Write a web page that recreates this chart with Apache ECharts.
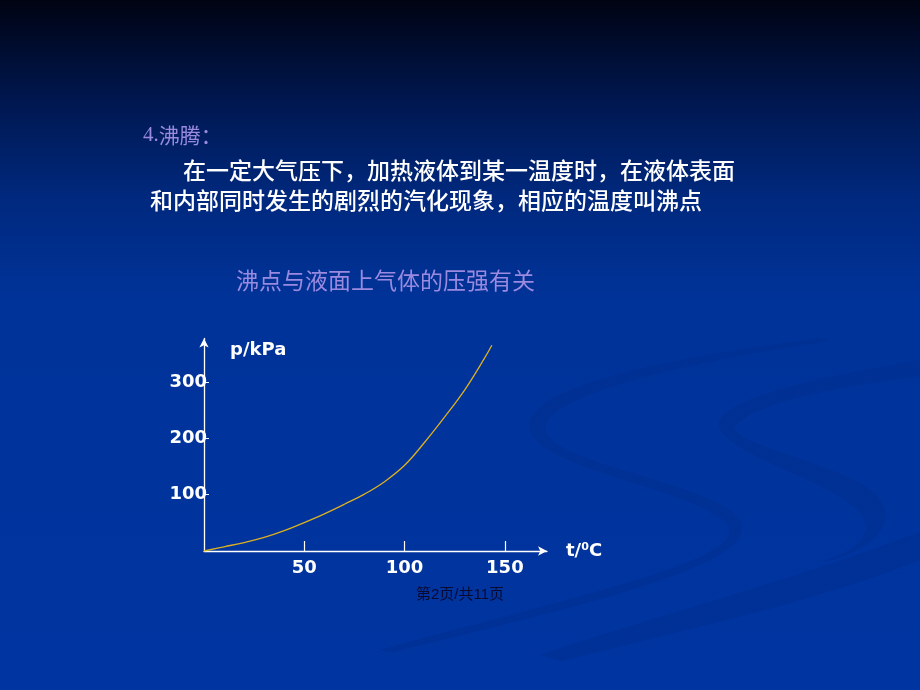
<!DOCTYPE html>
<html>
<head>
<meta charset="utf-8">
<script src="https://cdn.jsdelivr.net/npm/echarts@6/dist/echarts.min.js"></script>
<style>
  html, body { margin: 0; padding: 0; }
  #chart { width: 920px; height: 690px; }
</style>
</head>
<body>
<div id="chart"></div>
<script>
// boiling point curve: temperature (C) vs pressure (kPa)
const temperature = [0, 10, 20, 30, 40, 50, 60, 70, 80, 90, 100, 110, 120, 130, 140, 143.5];
const pressure = [0, 7.5, 15, 24, 36, 50.5, 66, 83, 101, 123, 152, 193, 238, 286, 343, 365];

const xTicks = [50, 100, 150];
const yTicks = [100, 200, 300];

const heading = "4.沸腾：";
const bodyLines = [
  "在一定大气压下，加热液体到某一温度时，在液体表面",
  "和内部同时发生的剧烈的汽化现象，相应的温度叫沸点",
];
const chartTitle = "沸点与液面上气体的压强有关";
const footer = "第2页/共11页";

const chart = echarts.init(document.getElementById("chart"));

const white = "#ffffff";
const lavender = "#9a8ae0";
const labelFont = "DejaVu Sans";
const cjkFont = "Noto Sans CJK SC";

// faint ribbons in the slide background
const ribbonFill = "rgba(0,30,100,0.13)";
const ribbons = [
  "M 820 338 C 650 360, 520 390, 530 430 C 540 470, 700 490, 728 525 C 745 560, 600 590, 380 650 L 392 652 C 620 597, 762 560, 740 520 C 716 484, 560 466, 546 432 C 536 400, 660 366, 830 341 Z",
  "M 920 360 C 800 380, 700 405, 722 432 C 745 465, 870 490, 866 530 C 860 550, 840 555, 820 562 L 832 560 C 884 545, 906 510, 862 484 C 820 460, 722 440, 736 425 C 760 400, 850 385, 920 376 Z",
  "M 920 532 C 800 578, 650 618, 540 655 L 562 661 C 700 626, 820 600, 920 560 Z",
];
ribbons.forEach((d, i) => {
  echarts.graphic.registerShape("ribbon" + i, echarts.graphic.extendPath(d, {}));
});

const option = {
  backgroundColor: new echarts.graphic.LinearGradient(0, 0, 0, 1, [
    { offset: 0, color: "#000312" },
    { offset: 0.145, color: "#00174f" },
    { offset: 0.29, color: "#00297f" },
    { offset: 0.435, color: "#003399" },
    { offset: 1, color: "#0034a0" },
  ]),
  animation: false,
  graphic: [
    ...ribbons.map((d, i) => ({
      type: "ribbon" + i,
      silent: true,
      z: -1,
      style: { fill: ribbonFill },
    })),
    {
      type: "text",
      x: 143,
      y: 135,
      style: {
        text: "{num|4.}{cjk|沸腾：}",
        textVerticalAlign: "middle",
        rich: {
          num: { font: "21px 'Liberation Serif'", fill: lavender },
          cjk: { font: "21px '" + cjkFont + "'", fill: lavender },
        },
      },
    },
    {
      type: "text",
      x: 183,
      y: 170,
      style: {
        text: bodyLines[0],
        font: "500 23px '" + cjkFont + "'",
        fill: white,
        textVerticalAlign: "middle",
      },
    },
    {
      type: "text",
      x: 150,
      y: 200,
      style: {
        text: bodyLines[1],
        font: "500 23px '" + cjkFont + "'",
        fill: white,
        textVerticalAlign: "middle",
      },
    },
    {
      type: "text",
      x: 236,
      y: 280,
      style: {
        text: chartTitle,
        font: "23px '" + cjkFont + "'",
        fill: lavender,
        textVerticalAlign: "middle",
      },
    },
    {
      type: "text",
      x: 416,
      y: 595,
      style: {
        text: footer,
        font: "15px 'Liberation Sans', '" + cjkFont + "'",
        fill: "#0a0a30",
        textVerticalAlign: "middle",
      },
    },
  ],
  grid: {
    left: 204,
    right: 373,
    top: 338.5,
    bottom: 139,
    outerBoundsMode: "none",
  },
  xAxis: {
    type: "value",
    min: 0,
    max: 171,
    name: "t/⁰C",
    nameGap: 19,
    nameTextStyle: {
      color: white,
      fontFamily: labelFont,
      fontWeight: "bold",
      fontSize: 18,
      verticalAlign: "middle",
    },
    splitLine: { show: false },
    axisLine: {
      symbol: ["none", "arrow"],
      symbolSize: [7, 9],
      lineStyle: { color: white, width: 1.3 },
    },
    axisTick: {
      inside: true,
      length: 10,
      customValues: xTicks,
      lineStyle: { color: white, width: 1.2 },
    },
    axisLabel: {
      customValues: xTicks,
      color: white,
      fontFamily: labelFont,
      fontWeight: "bold",
      fontSize: 18,
      margin: 8,
    },
  },
  yAxis: {
    type: "value",
    min: 0,
    max: 377,
    name: "p/kPa",
    nameGap: -12,
    nameTextStyle: {
      color: white,
      fontFamily: labelFont,
      fontWeight: "bold",
      fontSize: 18,
      align: "left",
      verticalAlign: "middle",
      padding: [0, 0, 0, 26],
    },
    splitLine: { show: false },
    axisLine: {
      symbol: ["none", "arrow"],
      symbolSize: [7, 9],
      lineStyle: { color: white, width: 1.3 },
    },
    axisTick: {
      inside: true,
      length: 5,
      customValues: yTicks,
      lineStyle: { color: white, width: 1 },
    },
    axisLabel: {
      customValues: yTicks,
      color: white,
      fontFamily: labelFont,
      fontWeight: "bold",
      fontSize: 18,
      margin: -3,
      padding: [10, 0, 0, 0],
    },
  },
  series: [
    {
      type: "line",
      data: temperature.map((t, i) => [t, pressure[i]]),
      smooth: 0.4,
      showSymbol: false,
      lineStyle: { color: "#dcb020", width: 1.3 },
      z: 3,
    },
  ],
};

chart.setOption(option);
</script>
</body>
</html>
